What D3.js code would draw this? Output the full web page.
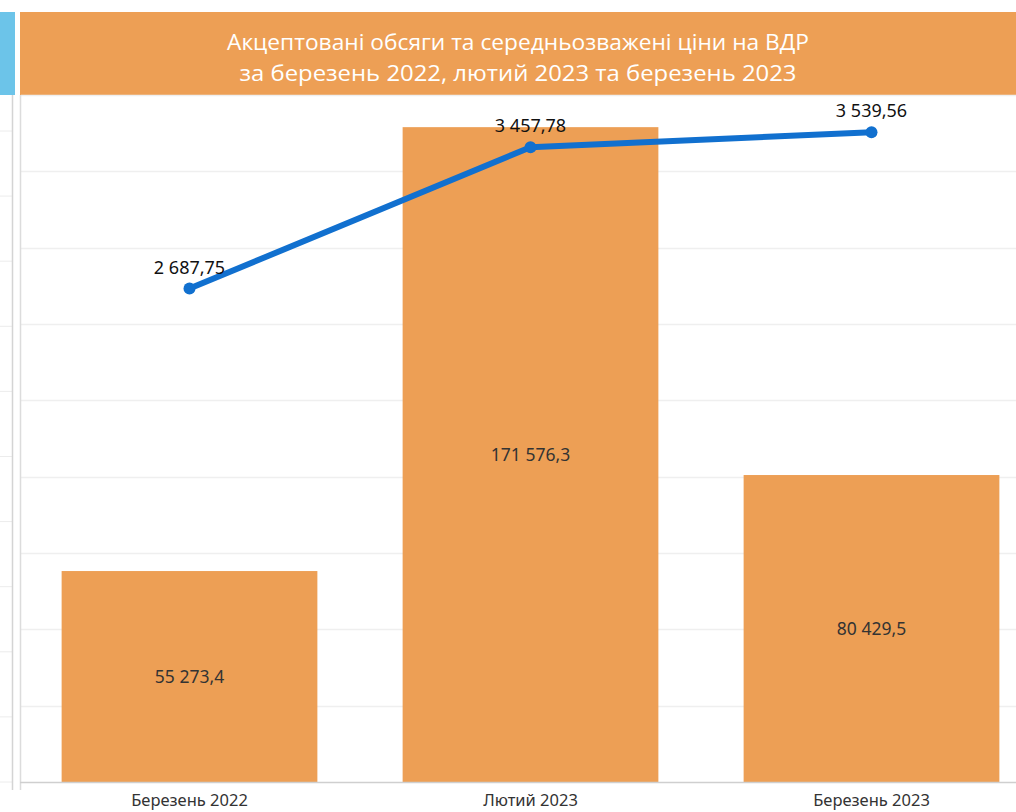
<!DOCTYPE html>
<html><head><meta charset="utf-8">
<script src="https://cdn.jsdelivr.net/npm/d3@7"></script>
<style>body{margin:0;background:#fff;overflow:hidden}svg{display:block}</style>
</head><body>
<script>
const categories = ["Березень 2022", "Лютий 2023", "Березень 2023"];
const volumes = [55273.4, 171576.3, 80429.5];
const prices = [2687.75, 3457.78, 3539.56];
const volumeLabels = ["55 273,4", "171 576,3", "80 429,5"];
const priceLabels = ["2 687,75", "3 457,78", "3 539,56"];
const titleLines = ["Акцептовані обсяги та середньозважені ціни на ВДР", "за березень 2022, лютий 2023 та березень 2023"];
const gridTicks = d3.range(0, 180001, 20000);
const leftGridTicks = d3.range(0, 11);

const W = 1016, H = 812;
const svg = d3.select("body").append("svg").attr("width", W).attr("height", H);
const font = "'Noto Sans', 'Open Sans', sans-serif";

const plotTop = 95, plotBottom = 782, plotLeft = 21;
const x = d3.scaleBand().domain(categories).range([19, 1042]).paddingInner(0.25).paddingOuter(0.125);
const yBar = d3.scaleLinear().domain([0, 180000]).range([plotBottom, plotTop]);
const yLine = d3.scaleLinear().domain([0, 3742]).range([plotBottom, plotTop]);
const yLeft = d3.scaleLinear().domain([0, 10]).range([782, 131]);

// left strip
svg.append("rect").attr("x", 0).attr("y", 12).attr("width", 15).attr("height", 83).attr("fill", "#6cc4e9");
svg.append("g").selectAll("line").data(leftGridTicks).join("line")
  .attr("x1", 0).attr("x2", 12).attr("y1", d => yLeft(d)).attr("y2", d => yLeft(d))
  .attr("stroke", "#ececec").attr("stroke-width", 1);
svg.append("line").attr("x1", 12.5).attr("x2", 12.5).attr("y1", 95).attr("y2", 790).attr("stroke", "#d4d4d4").attr("stroke-width", 1.5);

// header
svg.append("rect").attr("x", 20).attr("y", 12).attr("width", W - 20).attr("height", 83).attr("fill", "#ed9f55");
svg.append("g").selectAll("text").data(titleLines).join("text")
  .attr("x", 518).attr("y", (d, i) => 50 + i * 31)
  .attr("text-anchor", "middle").attr("fill", "#fff")
  .attr("font-family", "'Open Sans', sans-serif").attr("font-size", 22)
  .attr("textLength", (d, i) => i === 0 ? 582 : 557).attr("lengthAdjust", "spacingAndGlyphs")
  .text(d => d);

// gridlines
svg.append("g").selectAll("line").data(gridTicks.slice(1)).join("line")
  .attr("x1", plotLeft).attr("x2", W).attr("y1", d => Math.round(yBar(d)) + 0.5).attr("y2", d => Math.round(yBar(d)) + 0.5)
  .attr("stroke", "#efefef").attr("stroke-width", 1.5);

// bars
svg.append("g").selectAll("rect").data(volumes).join("rect")
  .attr("x", (d, i) => x(categories[i])).attr("width", x.bandwidth())
  .attr("y", d => yBar(d)).attr("height", d => plotBottom - yBar(d))
  .attr("fill", "#ed9f55");

// left border & baseline
svg.append("line").attr("x1", 20.5).attr("x2", 20.5).attr("y1", 95).attr("y2", 790).attr("stroke", "#dcdcdc").attr("stroke-width", 1.5);
svg.append("line").attr("x1", 20).attr("x2", W).attr("y1", plotBottom + 0.5).attr("y2", plotBottom + 0.5).attr("stroke", "#cfcfcf").attr("stroke-width", 1.5);

// bar labels
svg.append("g").selectAll("text").data(volumes).join("text")
  .attr("x", (d, i) => x(categories[i]) + x.bandwidth() / 2)
  .attr("y", d => (yBar(d) + plotBottom) / 2 + 6)
  .attr("text-anchor", "middle").attr("fill", "#333")
  .attr("font-family", font).attr("font-size", 17.5)
  .text((d, i) => volumeLabels[i]);

// line
const cx = (d, i) => x(categories[i]) + x.bandwidth() / 2;
const line = d3.line().x((d, i) => cx(d, i)).y(d => yLine(d));
svg.append("path").datum(prices).attr("d", line).attr("fill", "none")
  .attr("stroke", "#1170cf").attr("stroke-width", 6).attr("stroke-linejoin", "round");
svg.append("g").selectAll("circle").data(prices).join("circle")
  .attr("cx", cx).attr("cy", d => yLine(d)).attr("r", 6).attr("fill", "#1170cf");
svg.append("g").selectAll("text").data(prices).join("text")
  .attr("x", cx).attr("y", d => yLine(d) - 15)
  .attr("text-anchor", "middle").attr("fill", "#111")
  .attr("font-family", font).attr("font-size", 18)
  .text((d, i) => priceLabels[i]);

// category labels
svg.append("g").selectAll("text").data(categories).join("text")
  .attr("x", d => x(d) + x.bandwidth() / 2).attr("y", 806)
  .attr("text-anchor", "middle").attr("fill", "#333")
  .attr("font-family", font).attr("font-size", 16.5)
  .text(d => d);
</script>
</body></html>
